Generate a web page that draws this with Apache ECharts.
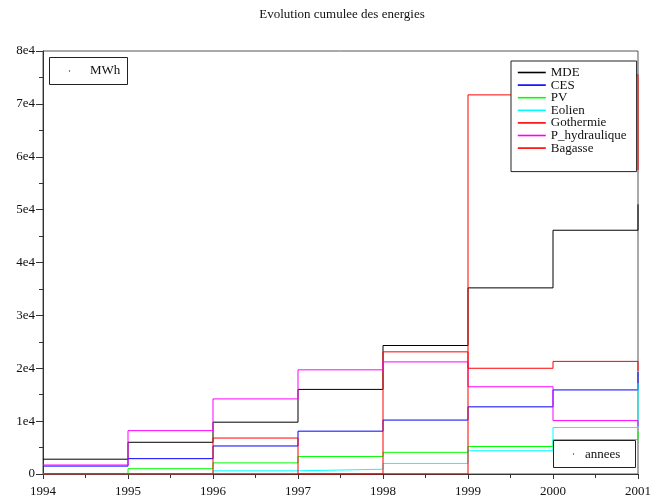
<!DOCTYPE html>
<html>
<head>
<meta charset="utf-8">
<script src="https://cdn.jsdelivr.net/npm/echarts@6/dist/echarts.min.js"></script>
<style>
html,body{margin:0;padding:0;background:#fff;overflow:hidden;}
#c{width:654px;height:502px;}
</style>
</head>
<body>
<div id="c"></div>
<script>
var years = [1994, 1995, 1996, 1997, 1998, 1999, 2000, 2001];
var seriesNames = ['MDE', 'CES', 'PV', 'Eolien', 'Gothermie', 'P_hydraulique', 'Bagasse'];
var MDE = [2800, 6000, 9800, 16000, 24300, 35200, 46100, 51000];
var CES = [1500, 2900, 5300, 8100, 10200, 12700, 15900, 19300];
var PV = [100, 1000, 2100, 3300, 4100, 5200, 6500, 8000];
var Eolien = [0, 0, 600, 900, 2000, 4400, 8800, 17200];
var Gothermie = [0, 0, 6800, 0, 23100, 20000, 21300, 19500];
var P_hydraulique = [1700, 8200, 14200, 19700, 21200, 16500, 10100, 9000];
var Bagasse = [0, 0, 0, 0, 0, 71700, 75500, 57500];
var yTicks = ['0', '1e4', '2e4', '3e4', '4e4', '5e4', '6e4', '7e4', '8e4'];
var xTicks = ['1994', '1995', '1996', '1997', '1998', '1999', '2000', '2001'];

var values = [MDE, CES, PV, Eolien, Gothermie, P_hydraulique, Bagasse];
var colors = ['#000000', '#0000ff', '#00ff00', '#00ffff', '#ff0000', '#ff00ff', '#ff0000'];
var font = 'Liberation Serif, Times New Roman, serif';

var series = seriesNames.map(function (n, i) {
  return {
    name: n,
    type: 'line',
    step: 'end',
    symbol: 'none',
    animation: false,
    lineStyle: { color: colors[i], width: 1 },
    itemStyle: { color: colors[i] },
    data: years.map(function (y, j) { return [y, values[i][j]]; })
  };
});

var chart = echarts.init(document.getElementById('c'), null, { renderer: 'canvas', width: 654, height: 502 });
chart.setOption({
  backgroundColor: '#ffffff',
  animation: false,
  grid: {
    left: 43, right: 13, top: 51, bottom: 28,
    show: true, borderColor: '#555', borderWidth: 1, backgroundColor: 'transparent'
  },
  legend: {
    data: seriesNames,
    orient: 'vertical',
    left: 511, top: 61,
    itemWidth: 28, itemHeight: 12, itemGap: -0.4,
    itemTextGap: 7,
    padding: [5, 10, 17, 6],
    borderColor: '#222', borderWidth: 1,
    backgroundColor: '#fff',
    itemStyle: { opacity: 0 },
    lineStyle: { width: 1.6 },
    textStyle: { fontFamily: font, fontSize: 13, color: '#111', lineHeight: 12 },
    selectedMode: false
  },
  xAxis: {
    type: 'value', min: 1994, max: 2001, interval: 1,
    axisLine: { lineStyle: { color: '#333', width: 1 } },
    axisTick: { show: true, length: 5, lineStyle: { color: '#333' } },
    minorTick: { show: true, splitNumber: 2, length: 4, lineStyle: { color: '#333' } },
    splitLine: { show: false },
    axisLabel: {
      margin: 11, fontFamily: font, fontSize: 13, color: '#111',
      formatter: function (v) { return xTicks[Math.round(v - 1994)]; }
    }
  },
  yAxis: {
    type: 'value', min: 0, max: 80000, interval: 10000,
    axisLine: { show: true, lineStyle: { color: '#333', width: 1 } },
    axisTick: { show: true, length: 7, lineStyle: { color: '#333' } },
    minorTick: { show: true, splitNumber: 2, length: 4, lineStyle: { color: '#333' } },
    splitLine: { show: false },
    axisLabel: {
      margin: 8, fontFamily: font, fontSize: 13, color: '#111',
      formatter: function (v) { return yTicks[Math.round(v / 10000)]; }
    }
  },
  graphic: [
    { type: 'text', x: 342, y: 15, style: { text: 'Evolution cumulee des energies', fontFamily: font, fontSize: 13, fill: '#111', align: 'center', verticalAlign: 'middle' }, z: 101 },
    { type: 'rect', shape: { x: 49.5, y: 57.5, width: 78, height: 27 }, style: { fill: '#fff', stroke: '#222', lineWidth: 1 }, z: 100 },
    { type: 'circle', shape: { cx: 69.5, cy: 71, r: 0.7 }, style: { fill: '#333' }, z: 101 },
    { type: 'text', x: 90, y: 71, style: { text: 'MWh', fontFamily: font, fontSize: 13, fill: '#111', verticalAlign: 'middle' }, z: 101 },
    { type: 'rect', shape: { x: 553.5, y: 440.5, width: 82, height: 27 }, style: { fill: '#fff', stroke: '#222', lineWidth: 1 }, z: 100 },
    { type: 'circle', shape: { cx: 573.5, cy: 454, r: 0.7 }, style: { fill: '#333' }, z: 101 },
    { type: 'text', x: 585, y: 455, style: { text: 'annees', fontFamily: font, fontSize: 13, fill: '#111', verticalAlign: 'middle' }, z: 101 }
  ],
  series: series
});
</script>
</body>
</html>
